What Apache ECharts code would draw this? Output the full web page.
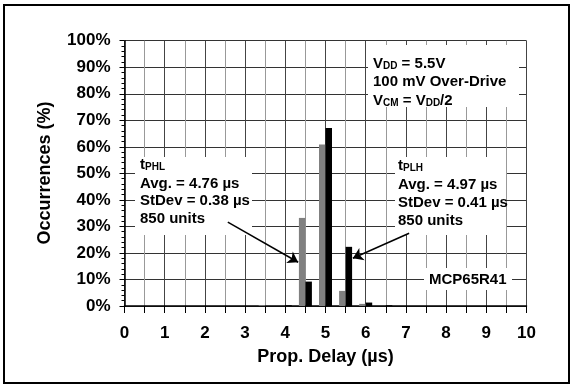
<!DOCTYPE html>
<html>
<head>
<meta charset="utf-8">
<script src="https://cdn.jsdelivr.net/npm/echarts@6/dist/echarts.min.js"></script>
<style>html,body{margin:0;padding:0;background:#fff;overflow:hidden}#c{width:573px;height:387px}</style>
</head>
<body>
<div id="c"></div>
<script>
// Bin positions (µs) and occurrence percentages
var binsPHL = [3.5, 4.5, 5.0, 5.5, 6.0];
var valsPHL = [0.3, 33.2, 60.9, 5.7, 0.8];
var binsPLH = [4.0, 4.5, 5.0, 5.5, 6.0, 6.5];
var valsPLH = [0.3, 9.2, 67.1, 22.3, 1.3, 0.3];
var xTicks = [0, 1, 2, 3, 4, 5, 6, 7, 8, 9, 10];
var yTicks = [0, 10, 20, 30, 40, 50, 60, 70, 80, 90, 100];
// Arrow endpoints in data coordinates
var arrowPHL = [[2.57, 31.6], [4.32, 16.5]];
var arrowPLH = [[7.08, 27.4], [5.68, 18.0]];

var FONT = 'Liberation Sans, Arial, sans-serif';
function pair(xs, ys) { return xs.map(function (x, i) { return [x, ys[i]]; }); }
var rich = {
  n: {fontSize: 15, fontWeight: 'bold', fontFamily: FONT, color: '#000'},
  s: {fontSize: 10, fontWeight: 'bold', fontFamily: FONT, color: '#000', verticalAlign: 'bottom', lineHeight: 14}
};
function txt(x, y, t) { return {type: 'text', z: 11, left: x, top: y, style: {text: t, rich: rich, font: 'bold 15px ' + FONT, fill: '#000'}}; }
function box(x, y, w, h) { return {type: 'rect', z: 10, shape: {x: x, y: y, width: w, height: h}, style: {fill: '#fff'}}; }

var option = {
  animation: false, backgroundColor: '#fff',
  grid: {left: 124.5, right: 46.5, top: 40.7, bottom: 81},
  xAxis: {
    type: 'value', min: xTicks[0], max: xTicks[xTicks.length - 1], interval: 0.5,
    axisLine: {show: true, lineStyle: {color: '#000', width: 1.5}},
    axisTick: {show: true, length: 7, lineStyle: {color: '#000'}},
    axisLabel: {margin: 19, fontFamily: FONT, fontWeight: 'bold', fontSize: 17, color: '#000',
      formatter: function (x) { return xTicks.indexOf(x) >= 0 ? String(x) : ''; }},
    splitLine: {show: true, lineStyle: {color: ['#444', '#999'], width: 1}}
  },
  yAxis: {
    type: 'value', min: yTicks[0], max: yTicks[yTicks.length - 1], interval: 10,
    axisLine: {show: true, lineStyle: {color: '#000', width: 1.5}},
    axisTick: {show: true, length: 5, lineStyle: {color: '#000'}},
    minorTick: {show: true, splitNumber: 5, length: 3, lineStyle: {color: '#000'}},
    axisLabel: {margin: 14, fontFamily: FONT, fontWeight: 'bold', fontSize: 17, color: '#000', formatter: '{value}%'},
    splitLine: {show: true, lineStyle: {color: '#333', width: 1}}
  },
  series: [
    {type: 'bar', name: 'tPHL', data: pair(binsPHL, valsPHL), barWidth: 6.5, barGap: '0%',
      itemStyle: {color: '#808080'}, z: 3},
    {type: 'bar', name: 'tPLH', data: pair(binsPLH, valsPLH), barWidth: 6.5, barGap: '0%',
      itemStyle: {color: '#000'}, z: 3},
    {type: 'lines', coordinateSystem: 'cartesian2d', z: 12, silent: true,
      symbol: ['none', 'arrow'], symbolSize: 10,
      lineStyle: {color: '#000', width: 1.5, opacity: 1, curveness: 0},
      data: [{coords: arrowPHL}, {coords: arrowPLH}]}
  ],
  graphic: [
    {type: 'rect', z: 20, shape: {x: 4, y: 5, width: 565, height: 378}, style: {fill: 'rgba(0,0,0,0)', stroke: '#000', lineWidth: 2}},
    {type: 'text', z: 11, x: 325.5, y: 357, style: {text: 'Prop. Delay (µs)', font: 'bold 18px ' + FONT, fill: '#000', align: 'center', verticalAlign: 'middle'}},
    {type: 'text', z: 11, x: 45, y: 173, rotation: Math.PI / 2, style: {text: 'Occurrences (%)', font: 'bold 18px ' + FONT, fill: '#000', align: 'center', verticalAlign: 'middle'}},
    box(368, 45, 151, 62),
    txt(373, 56, '{n|V}{s|DD}{n| = 5.5V}'),
    txt(373, 74, '{n|100 mV Over-Drive}'),
    txt(373, 93, '{n|V}{s|CM}{n| = V}{s|DD}{n|/2}'),
    box(135, 157, 117, 78),
    txt(140, 157, '{n|t}{s|PHL}'),
    txt(140, 176, '{n|Avg. = 4.76 µs}'),
    txt(140, 193, '{n|StDev = 0.38 µs}'),
    txt(140, 211, '{n|850 units}'),
    box(395, 157, 111, 78),
    txt(398, 158, '{n|t}{s|PLH}'),
    txt(398, 177, '{n|Avg. = 4.97 µs}'),
    txt(398, 195, '{n|StDev = 0.41 µs}'),
    txt(398, 213, '{n|850 units}'),
    box(424, 268, 88, 22),
    txt(429, 272, '{n|MCP65R41}')
  ]
};
echarts.init(document.getElementById('c')).setOption(option);
</script>
</body>
</html>
